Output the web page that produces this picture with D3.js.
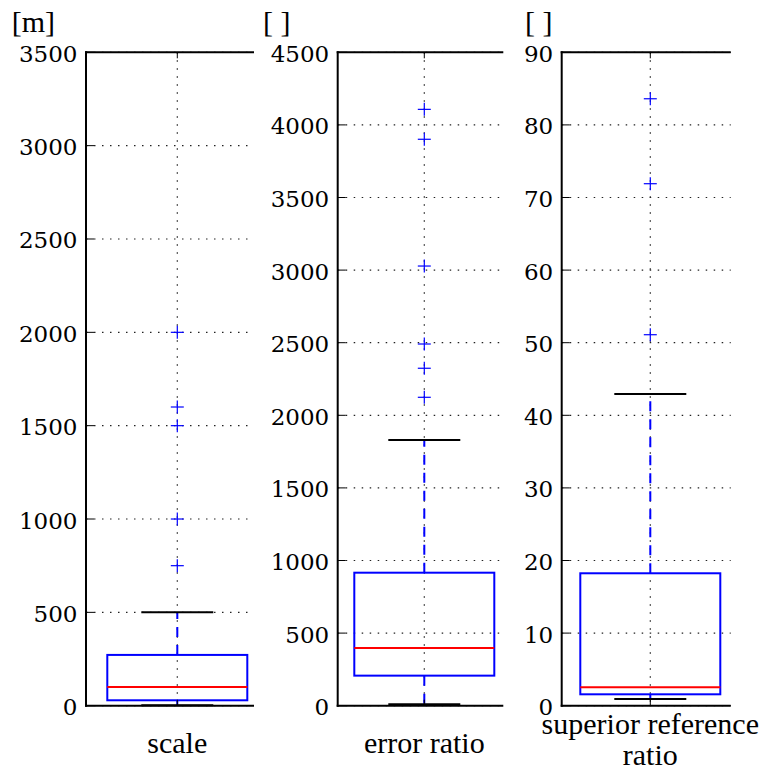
<!DOCTYPE html>
<html>
<head>
<meta charset="utf-8">
<script src="https://cdn.jsdelivr.net/npm/d3@7"></script>
<style>
  html, body { margin: 0; padding: 0; background: #fff; }
  svg { display: block; }
</style>
</head>
<body>
<svg id="chart" width="763" height="772"></svg>
<script>
// ---- data ----
const panelNames = ["scale", "error ratio", "superior reference ratio"];
const unitLabels = ["[m]", "[ ]", "[ ]"];
const yMax = [3500, 4500, 90];
const yTicks1 = [0, 500, 1000, 1500, 2000, 2500, 3000, 3500];
const yTicks2 = [0, 500, 1000, 1500, 2000, 2500, 3000, 3500, 4000, 4500];
const yTicks3 = [0, 10, 20, 30, 40, 50, 60, 70, 80, 90];
// box statistics: [lower whisker, q1, median, q3, upper whisker]
const stats1 = [2, 29, 100, 272, 500];
const stats2 = [10, 207, 397, 916, 1830];
const stats3 = [0.92, 1.57, 2.53, 18.24, 42.93];
const fliers1 = [750, 1000, 1500, 1600, 2000];
const fliers2 = [2124, 2324, 2491, 3028, 3901, 4107];
const fliers3 = [51.1, 71.9, 83.6];

const panels = [
  { name: panelNames[0], unit: unitLabels[0], max: yMax[0], ticks: yTicks1, stats: stats1, fliers: fliers1 },
  { name: panelNames[1], unit: unitLabels[1], max: yMax[1], ticks: yTicks2, stats: stats2, fliers: fliers2 },
  { name: panelNames[2], unit: unitLabels[2], max: yMax[2], ticks: yTicks3, stats: stats3, fliers: fliers3 }
];

// ---- layout ----
const layout = [
  { left: 86, right: 254, center: 177.3, unitX: 11.7, labelLines: [753] },
  { left: 337.7, right: 503.3, center: 424.3, unitX: 263, labelLines: [753] },
  { left: 561.7, right: 730.7, center: 650.3, unitX: 525, labelLines: [734, 765] }
];
const yTop = 52.3, yBottom = 705.7;
const boxHalf = 70, capHalf = 36;
const tickFont = "'DejaVu Serif', serif";
const labelFont = "'Liberation Serif', 'Times New Roman', serif";

const svg = d3.select("#chart");

panels.forEach((p, i) => {
  const L = layout[i];
  const x = d3.scaleLinear().domain([0.5, 1.5]).range([L.left, 2 * L.center - L.left]);
  const y = d3.scaleLinear().domain([0, p.max]).range([yBottom, yTop]);
  const g = svg.append("g");
  const cx = x(1);

  // grid lines (dotted)
  g.selectAll("line.hgrid").data(p.ticks).join("line")
    .attr("x1", L.left).attr("x2", L.right)
    .attr("y1", d => y(d)).attr("y2", d => y(d))
    .attr("stroke", "#222").attr("stroke-width", 1.2)
    .attr("stroke-dasharray", "1.5,6.5");
  g.append("line")
    .attr("x1", cx).attr("x2", cx).attr("y1", yTop).attr("y2", yBottom)
    .attr("stroke", "#222").attr("stroke-width", 1.2)
    .attr("stroke-dasharray", "1.5,6.5");

  const s = p.stats;
  // whiskers
  g.append("line")
    .attr("x1", cx).attr("x2", cx).attr("y1", y(s[3])).attr("y2", y(s[4]))
    .attr("stroke", "#0000ff").attr("stroke-width", 2).attr("stroke-dasharray", "10,8");
  g.append("line")
    .attr("x1", cx).attr("x2", cx).attr("y1", y(s[1])).attr("y2", y(s[0]))
    .attr("stroke", "#0000ff").attr("stroke-width", 2).attr("stroke-dasharray", "10,8");
  // caps
  [s[0], s[4]].forEach(v => {
    g.append("line")
      .attr("x1", cx - capHalf).attr("x2", cx + capHalf)
      .attr("y1", y(v)).attr("y2", y(v))
      .attr("stroke", "#000").attr("stroke-width", 2);
  });
  // box
  g.append("rect")
    .attr("x", cx - boxHalf).attr("width", 2 * boxHalf)
    .attr("y", y(s[3])).attr("height", y(s[1]) - y(s[3]))
    .attr("fill", "none").attr("stroke", "#0000ff").attr("stroke-width", 2);
  // median
  g.append("line")
    .attr("x1", cx - boxHalf).attr("x2", cx + boxHalf)
    .attr("y1", y(s[2])).attr("y2", y(s[2]))
    .attr("stroke", "#ff0000").attr("stroke-width", 2);
  // fliers
  const fg = g.selectAll("g.flier").data(p.fliers).join("g")
    .attr("transform", d => `translate(${cx},${y(d)})`);
  fg.append("line").attr("x1", -6.5).attr("x2", 6.5).attr("y1", 0).attr("y2", 0)
    .attr("stroke", "#0000ff").attr("stroke-width", 1.2);
  fg.append("line").attr("x1", 0).attr("x2", 0).attr("y1", -6.5).attr("y2", 6.5)
    .attr("stroke", "#0000ff").attr("stroke-width", 1.2);

  // spines
  g.append("line").attr("x1", L.left).attr("x2", L.left).attr("y1", yTop - 1).attr("y2", yBottom + 1)
    .attr("stroke", "#000").attr("stroke-width", 2);
  g.append("line").attr("x1", L.left - 1).attr("x2", L.right).attr("y1", yTop).attr("y2", yTop)
    .attr("stroke", "#000").attr("stroke-width", 2);
  g.append("line").attr("x1", L.left - 1).attr("x2", L.right).attr("y1", yBottom).attr("y2", yBottom)
    .attr("stroke", "#000").attr("stroke-width", 2);

  // inward tick marks
  g.selectAll("line.ytick").data(p.ticks).join("line")
    .attr("x1", L.left).attr("x2", L.left + 8)
    .attr("y1", d => y(d)).attr("y2", d => y(d))
    .attr("stroke", "#000").attr("stroke-width", 1);
  g.append("line").attr("x1", cx).attr("x2", cx).attr("y1", yTop).attr("y2", yTop + 6)
    .attr("stroke", "#000").attr("stroke-width", 1);
  g.append("line").attr("x1", cx).attr("x2", cx).attr("y1", yBottom).attr("y2", yBottom - 6)
    .attr("stroke", "#000").attr("stroke-width", 1);

  // tick labels
  g.selectAll("text.ylab").data(p.ticks).join("text")
    .attr("x", L.left - 8.5).attr("y", d => y(d) + 9.5)
    .attr("text-anchor", "end")
    .attr("font-family", tickFont).attr("font-size", 23).attr("fill", "#000")
    .text(d => d);

  // unit label
  g.append("text").attr("x", L.unitX).attr("y", 32)
    .attr("font-family", labelFont).attr("font-size", 30).attr("fill", "#000")
    .text(p.unit);

  // x label
  const words = i === 2 ? ["superior reference", "ratio"] : [p.name];
  words.forEach((w, k) => {
    g.append("text").attr("x", cx).attr("y", L.labelLines[k])
      .attr("text-anchor", "middle")
      .attr("font-family", labelFont).attr("font-size", 30).attr("fill", "#000")
      .text(w);
  });
});
</script>
</body>
</html>
